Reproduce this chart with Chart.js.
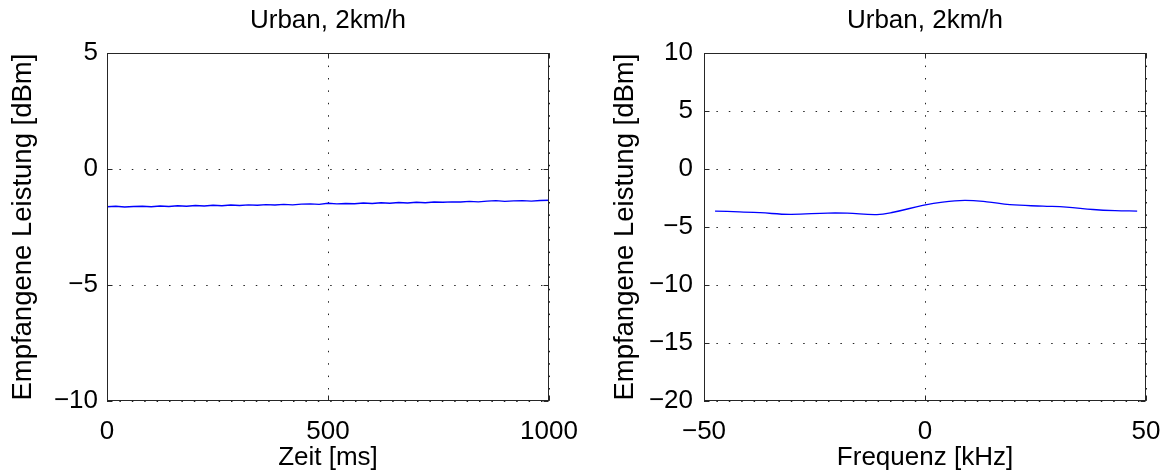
<!DOCTYPE html>
<html>
<head>
<meta charset="utf-8">
<script src="https://cdn.jsdelivr.net/npm/chart.js@4.4.1/dist/chart.umd.min.js"></script>
<style>
  html, body { margin: 0; padding: 0; background: #fff; }
  #wrap { position: relative; width: 1160px; height: 473px; }
  canvas { position: absolute; top: 0; }
</style>
</head>
<body>
<div id="wrap">
  <canvas id="time-chart" width="580" height="473" style="left:0"></canvas>
  <canvas id="freq-chart" width="580" height="473" style="left:580px"></canvas>
</div>
<script>
// Data
const timeMs = [0, 20, 40, 60, 80, 100, 120, 140, 160, 180, 200, 220, 240, 260, 280, 300, 320, 340, 360, 380,
    400, 420, 440, 460, 480, 500, 520, 540, 560, 580, 600, 620, 640, 660, 680, 700, 720, 740, 760, 780,
    800, 820, 840, 860, 880, 900, 920, 940, 960, 980, 1000];
const powerTime = [-1.62, -1.60, -1.63, -1.61, -1.60, -1.62, -1.59, -1.61, -1.58, -1.60, -1.57, -1.59, -1.56, -1.58, -1.55, -1.57, -1.54, -1.56, -1.53, -1.55,
    -1.52, -1.54, -1.51, -1.50, -1.52, -1.47, -1.50, -1.48, -1.49, -1.46, -1.48, -1.45, -1.47, -1.44, -1.46, -1.43, -1.45, -1.42, -1.43, -1.41,
    -1.42, -1.39, -1.41, -1.38, -1.36, -1.39, -1.37, -1.36, -1.38, -1.35, -1.34];

const freqKHz = [-47.5, -42, -37.3, -30.5, -22, -17.6, -10.9, -7.2, -0.5, 4, 9, 14, 19.2, 26.7, 32, 38, 43, 48];
const powerFreq = [-3.62, -3.68, -3.76, -3.90, -3.79, -3.80, -3.92, -3.72, -3.13, -2.84, -2.70, -2.82, -3.07, -3.19, -3.27, -3.48, -3.58, -3.62];

const chartTitle = 'Urban, 2km/h';
const yLabel = 'Empfangene Leistung [dBm]';
const fontFamily = "'Liberation Sans', Arial, Helvetica, sans-serif";

// box round the plot area with MATLAB-style inward ticks
const framePlugin = {
    id: 'frame',
    afterDraw(chart) {
        const { ctx, chartArea: a, scales: { x, y } } = chart;
        const l = Math.round(a.left) + 0.5, r = Math.round(a.right) - 0.5;
        const t = Math.round(a.top) + 0.5, b = Math.round(a.bottom) - 0.5;
        ctx.save();
        ctx.strokeStyle = '#262626';
        ctx.lineWidth = 1;
        ctx.beginPath();
        x.ticks.forEach(tk => {
            const px = Math.round(x.getPixelForValue(tk.value)) + 0.5;
            ctx.moveTo(px, b); ctx.lineTo(px, b - 5);
            ctx.moveTo(px, t); ctx.lineTo(px, t + 5);
        });
        y.ticks.forEach(tk => {
            const py = Math.round(y.getPixelForValue(tk.value)) + 0.5;
            ctx.moveTo(l, py); ctx.lineTo(l + 5, py);
            ctx.moveTo(r, py); ctx.lineTo(r - 5, py);
        });
        ctx.stroke();
        ctx.strokeRect(l, t, r - l, b - t);
        ctx.restore();
    }
};

const minusSign = v => String(v).replace('-', '\u2212');

function makeChart(canvasId, xs, ys, cfg) {
    return new Chart(document.getElementById(canvasId), {
        type: 'line',
        data: {
            datasets: [{
                data: xs.map((v, i) => ({ x: v, y: ys[i] })),
                borderColor: '#0000ff',
                borderWidth: cfg.lineWidth,
                pointRadius: 0,
                tension: cfg.tension,
                fill: false
            }]
        },
        options: {
            responsive: false,
            animation: false,
            layout: { padding: { left: 0, right: cfg.padRight, top: 0, bottom: 0 } },
            plugins: {
                legend: { display: false },
                tooltip: { enabled: false },
                title: {
                    display: true,
                    text: chartTitle,
                    fullSize: false,
                    color: '#000',
                    font: { family: fontFamily, size: 26, weight: 'normal' },
                    padding: { top: 5, bottom: 17 }
                }
            },
            scales: {
                x: {
                    type: 'linear',
                    min: cfg.xMin, max: cfg.xMax,
                    ticks: {
                        stepSize: cfg.xStep,
                        color: '#000',
                        padding: 15,
                        maxRotation: 0,
                        font: { family: fontFamily, size: 26 },
                        callback: minusSign
                    },
                    grid: { color: '#222', lineWidth: 1, drawTicks: false },
                    border: { display: false, dash: [1.5, 10.9] },
                    title: {
                        display: true,
                        text: cfg.xLabel,
                        color: '#000',
                        font: { family: fontFamily, size: 26 },
                        padding: { top: 0, bottom: 0 }
                    },
                    afterFit(scale) {
                        scale.height = 72;
                        scale.paddingLeft = 0;
                        scale.paddingRight = 0;
                    }
                },
                y: {
                    min: cfg.yMin, max: cfg.yMax,
                    ticks: {
                        stepSize: 5,
                        color: '#000',
                        padding: cfg.yTickPad,
                        font: { family: fontFamily, size: 26 },
                        callback: minusSign
                    },
                    grid: { color: '#222', lineWidth: 1, drawTicks: false },
                    border: { display: false, dash: [1.5, 10.9] },
                    title: {
                        display: true,
                        text: yLabel,
                        color: '#000',
                        font: { family: fontFamily, size: 27.5 },
                        padding: { top: cfg.yTitlePad, bottom: 0 }
                    },
                    afterFit(scale) {
                        scale.width = cfg.yWidth;
                        scale.paddingTop = 0;
                        scale.paddingBottom = 0;
                    }
                }
            }
        },
        plugins: [framePlugin]
    });
}

// Left: received power over time
makeChart('time-chart', timeMs, powerTime, {
    xMin: 0, xMax: 1000, xStep: 500, xLabel: 'Zeit [ms]',
    yMin: -10, yMax: 5,
    yWidth: 107, yTickPad: 9, yTitlePad: 7, padRight: 31,
    lineWidth: 1.4, tension: 0
});

// Right: received power over frequency
makeChart('freq-chart', freqKHz, powerFreq, {
    xMin: -50, xMax: 50, xStep: 50, xLabel: 'Frequenz [kHz]',
    yMin: -20, yMax: 10,
    yWidth: 124, yTickPad: 11, yTitlePad: 29, padRight: 14,
    lineWidth: 1.3, tension: 0.4
});
</script>
</body>
</html>
